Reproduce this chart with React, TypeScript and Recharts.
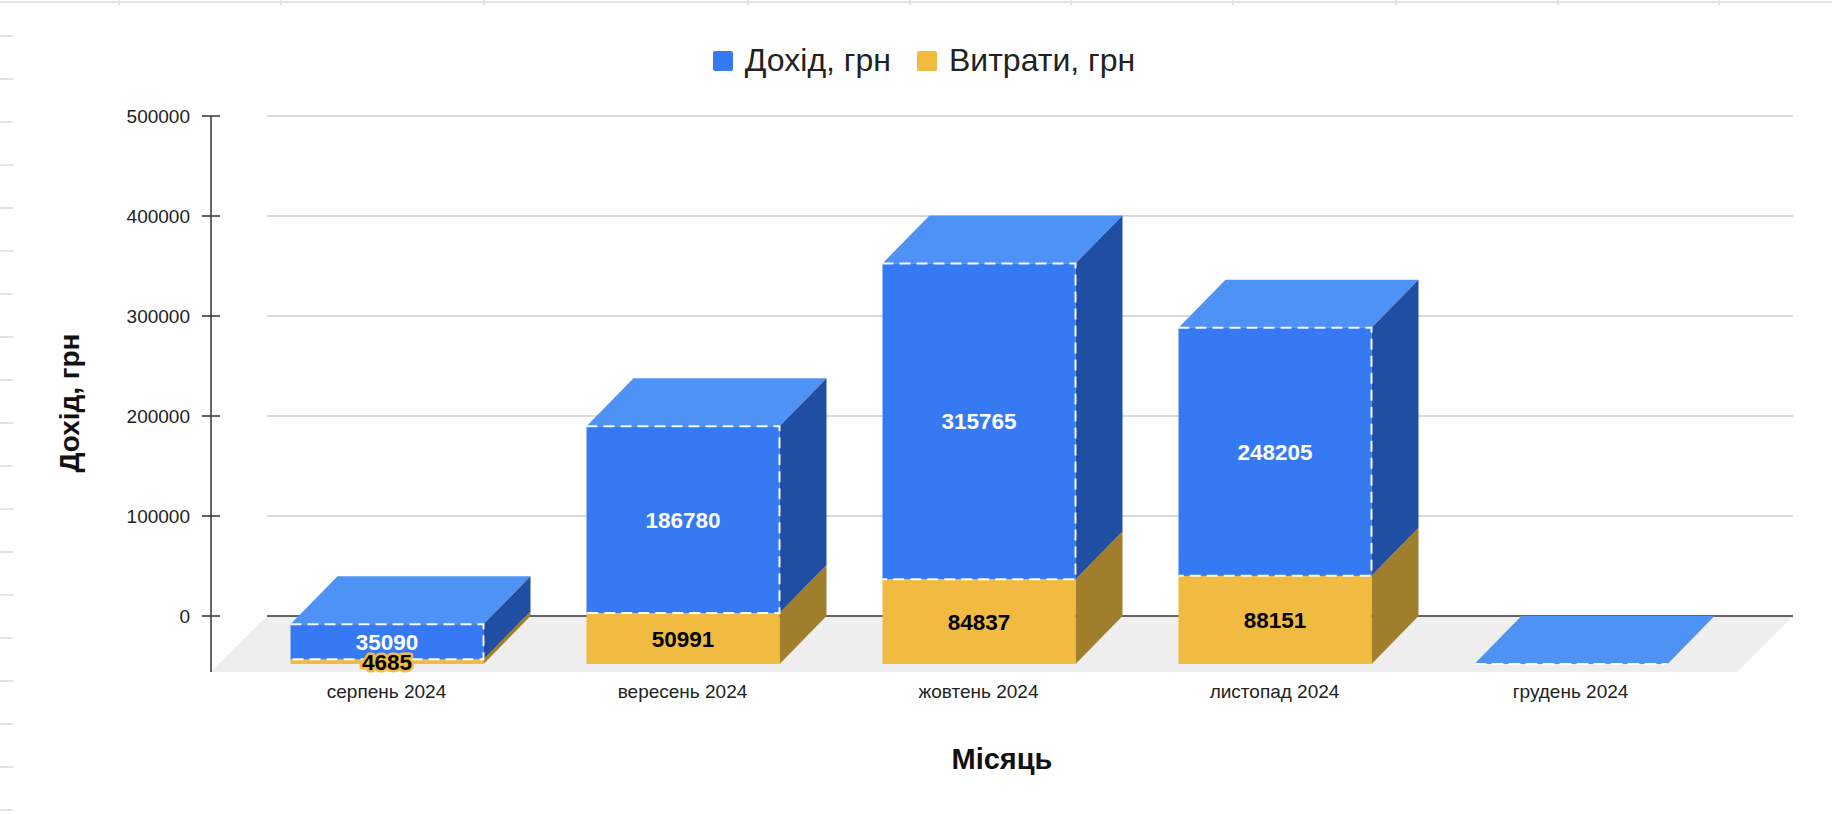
import React from 'react';
import {
  BarChart,
  Bar,
  XAxis,
  YAxis,
  CartesianGrid,
  Legend,
  LabelList,
  Label,
} from 'recharts';

// ---------- data ----------
const months = ['серпень 2024', 'вересень 2024', 'жовтень 2024', 'листопад 2024', 'грудень 2024'];
const income = [35090, 186780, 315765, 248205, 0];
const expenses = [4685, 50991, 84837, 88151, 0];
const yTicks = [0, 100000, 200000, 300000, 400000, 500000];
const seriesNames = { income: 'Дохід, грн', expenses: 'Витрати, грн' };
const axisTitles = { x: 'Місяць', y: 'Дохід, грн' };

const data = months.map((m, i) => ({ month: m, income: income[i], expenses: expenses[i] }));

// ---------- layout / style ----------
const W = 1832;
const H = 814;
const FONT = "'Liberation Sans', Arial, Helvetica, sans-serif";
const DX = 47; // 3D depth of boxes (x)
const DY = 48; // 3D depth of boxes (y)
const FLOOR_MIN = -56000; // value extent of the floor below zero
const FLOOR_DEPTH = 56; // px depth of the 3D floor (45°)
const TICK_SIZE = 9;
const TICK_MARGIN = 12;

const BLUE = { front: '#3579f3', top: '#4f92f6', side: '#1f4ea3' };
const YELLOW = { front: '#f1bb41', top: '#f5c760', side: '#a07e2c' };

// spreadsheet background decoration
const COLUMN_BORDERS = [119, 281, 484, 748, 910, 1071, 1233, 1396, 1558, 1719];
const ROW_START = 36;
const ROW_STEP = 43;

type Colors = { front: string; top: string; side: string };

function box3D(p: any, c: Colors, dashed: boolean) {
  const { x, y, width: w, height: h } = p;
  if (x == null || y == null || w == null || h == null) return <g />;
  const fx = x - DX;
  const fy = y + DY;
  return (
    <g>
      <polygon points={`${fx},${fy} ${fx + w},${fy} ${x + w},${y} ${x},${y}`} fill={c.top} />
      <polygon
        points={`${fx + w},${fy} ${x + w},${y} ${x + w},${y + h} ${fx + w},${fy + h}`}
        fill={c.side}
      />
      <rect x={fx} y={fy} width={w} height={Math.max(h, 0)} fill={c.front} />
      {dashed && (
        <path
          d={`M${fx},${fy} H${fx + w} V${fy + h} H${fx}`}
          fill="none"
          stroke="#ffffff"
          strokeOpacity={0.95}
          strokeWidth={2}
          strokeDasharray="11 6"
        />
      )}
    </g>
  );
}

const makeLabel = (fill: string, halo: string) => (p: any) => {
  const vb = p.viewBox && p.viewBox.width != null ? p.viewBox : p;
  const { x, y, width, height } = vb;
  const value = p.value;
  if (!value) return null;
  const cx = x + width / 2 - DX;
  const cy = y + height / 2 + DY;
  return (
    <text
      x={cx}
      y={cy}
      dy="0.36em"
      textAnchor="middle"
      fill={fill}
      stroke={halo}
      strokeWidth={5}
      strokeLinejoin="round"
      paintOrder="stroke"
      fontSize={22.5}
      fontWeight="bold"
      fontFamily={FONT}
    >
      {value}
    </text>
  );
};

// horizontal grid line; the zero line (first tick) also carries the 3D floor
const GridLine = (p: any) => {
  const { x1, x2, y1 } = p;
  if (p.index === 0) {
    const d = FLOOR_DEPTH;
    return (
      <g key={p.key}>
        <polygon
          points={`${x1 + d},${y1} ${x2},${y1} ${x2 - d},${y1 + d} ${x1},${y1 + d}`}
          fill="#eeeeee"
        />
        <line x1={x1 + d} x2={x2} y1={y1} y2={y1} stroke="#333333" strokeWidth={1.5} />
      </g>
    );
  }
  return (
    <line key={p.key} x1={x1 + FLOOR_DEPTH} x2={x2} y1={y1} y2={y1} stroke="#cccccc" strokeWidth={1.5} />
  );
};

const YTick = (p: any) => {
  const { x, y, payload } = p;
  return (
    <g>
      <line
        x1={x + TICK_MARGIN}
        x2={x + TICK_MARGIN + 2 * TICK_SIZE}
        y1={y}
        y2={y}
        stroke="#333333"
        strokeWidth={1.5}
      />
      <text x={x} y={y} dy="0.355em" textAnchor="end" fontSize={19} fill="#222222" fontFamily={FONT}>
        {payload.value}
      </text>
    </g>
  );
};

const XTick = (p: any) => {
  const { x, y, payload } = p;
  return (
    <text x={x - DX} y={y} dy="0.71em" textAnchor="middle" fontSize={19} fill="#222222" fontFamily={FONT}>
      {payload.value}
    </text>
  );
};

const YTitle = (p: any) => {
  const vb = p.viewBox;
  const tx = vb.x + 78.5;
  const ty = vb.y + vb.height / 2 + 9;
  return (
    <text
      x={tx}
      y={ty}
      textAnchor="middle"
      transform={`rotate(-90, ${tx}, ${ty})`}
      fontSize={28}
      fontWeight="bold"
      fill="#111111"
      fontFamily={FONT}
    >
      {axisTitles.y}
    </text>
  );
};

const XTitle = (p: any) => {
  const vb = p.viewBox;
  return (
    <text
      x={vb.x + vb.width / 2}
      y={vb.y + 97}
      textAnchor="middle"
      fontSize={29}
      fontWeight="bold"
      fill="#111111"
      fontFamily={FONT}
    >
      {axisTitles.x}
    </text>
  );
};

const legendItems = [
  { name: seriesNames.income, color: BLUE.front },
  { name: seriesNames.expenses, color: YELLOW.front },
];

const LegendContent = () => (
  <div
    style={{
      height: 116,
      boxSizing: 'border-box',
      paddingTop: 41,
      paddingLeft: 16,
      display: 'flex',
      justifyContent: 'center',
      alignItems: 'flex-start',
      fontFamily: FONT,
      fontSize: 32,
      lineHeight: '38px',
      color: '#222222',
    }}
  >
    {legendItems.map((it, i) => (
      <span
        key={it.name}
        style={{ display: 'inline-flex', alignItems: 'center', marginRight: i === 0 ? 26 : 0 }}
      >
        <span
          style={{
            width: 20,
            height: 20,
            background: it.color,
            borderRadius: 2,
            marginRight: 12,
            position: 'relative',
            top: 1,
          }}
        />
        {it.name}
      </span>
    ))}
  </div>
);

const Background = () => (
  <svg width={W} height={H} style={{ position: 'absolute', left: 0, top: 0 }}>
    <line x1={0} x2={W} y1={2} y2={2} stroke="#e2e2e2" strokeWidth={2} />
    {COLUMN_BORDERS.map((cx) => (
      <line key={cx} x1={cx} x2={cx} y1={0} y2={5} stroke="#e2e2e2" strokeWidth={2} />
    ))}
    {Array.from({ length: Math.floor((H - ROW_START) / ROW_STEP) + 1 }, (_, k) => ROW_START + k * ROW_STEP).map(
      (ry) => (
        <line key={ry} x1={0} x2={13} y1={ry} y2={ry} stroke="#e2e2e2" strokeWidth={2} />
      )
    )}
  </svg>
);

export default function App() {
  return (
    <div style={{ position: 'absolute', left: 0, top: 0, width: W, height: H, background: '#ffffff' }}>
      <Background />
      <div style={{ position: 'absolute', left: 0, top: 0 }}>
        <BarChart
          width={W}
          height={H}
          data={data}
          margin={{ top: 0, right: 39, bottom: 42, left: 0 }}
          barSize={193}
        >
          <Legend
            verticalAlign="top"
            align="center"
            content={LegendContent}
            wrapperStyle={{ top: 0, left: 0, width: W, height: 116 }}
          />
          <CartesianGrid vertical={false} horizontal={GridLine as any} syncWithTicks />
          <XAxis
            dataKey="month"
            axisLine={false}
            tickLine={false}
            tickSize={0}
            tickMargin={13}
            height={100}
            padding={{ left: 74.5, right: 27.5 }}
            tick={XTick as any}
            interval={0}
          >
            <Label content={XTitle as any} />
          </XAxis>
          <YAxis
            width={211}
            domain={[FLOOR_MIN, 500000]}
            ticks={yTicks}
            allowDataOverflow
            tick={YTick as any}
            tickSize={TICK_SIZE}
            tickMargin={TICK_MARGIN}
            tickLine={false}
            axisLine={{ stroke: '#333333', strokeWidth: 1.5 }}
          >
            <Label content={YTitle as any} />
          </YAxis>
          <Bar
            dataKey="expenses"
            name={seriesNames.expenses}
            stackId="a"
            fill={YELLOW.front}
            isAnimationActive={false}
            shape={(p: any) => box3D(p, YELLOW, false)}
          >
            <LabelList dataKey="expenses" content={makeLabel('#000000', YELLOW.front) as any} />
          </Bar>
          <Bar
            dataKey="income"
            name={seriesNames.income}
            stackId="a"
            fill={BLUE.front}
            isAnimationActive={false}
            shape={(p: any) => box3D(p, BLUE, true)}
          >
            <LabelList dataKey="income" content={makeLabel('#ffffff', BLUE.front) as any} />
          </Bar>
        </BarChart>
      </div>
    </div>
  );
}
